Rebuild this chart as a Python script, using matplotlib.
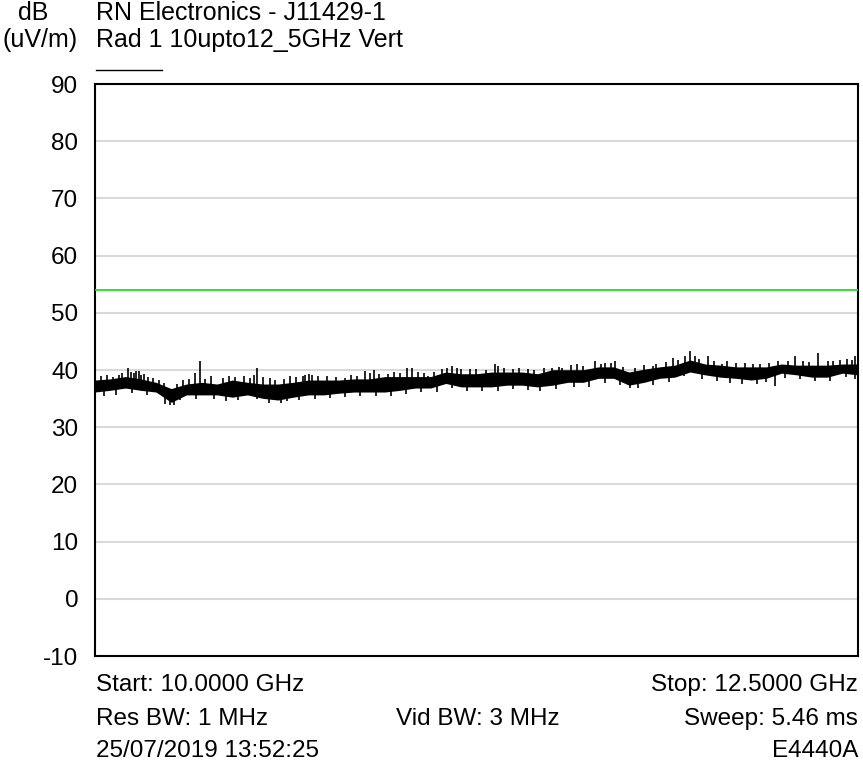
import numpy as np
import matplotlib.pyplot as plt
from matplotlib.lines import Line2D

plt.rcParams['font.family'] = ['Liberation Sans', 'DejaVu Sans']
plt.rcParams['axes.unicode_minus'] = False

# sweep envelope, sampled every 50 MHz
freq_ghz = np.round(np.arange(10.0, 12.5001, 0.05), 3)
trace_hi = [38.4, 38.6, 39.0, 38.6, 38.0, 36.9, 37.7, 38.0, 37.7,
            38.4, 38.0, 37.7, 37.7, 38.0, 38.4, 38.4, 38.4,
            38.6, 38.6, 39.0, 39.0, 39.0, 39.0, 39.8, 39.5,
            39.5, 39.8, 39.8, 39.8, 39.5, 40.2, 40.2, 40.2,
            40.7, 40.7, 39.8, 40.3, 40.7, 41.0, 41.9, 41.2,
            41.0, 40.7, 40.7, 40.7, 41.2, 41.0, 41.0, 41.0, 41.2, 41.2]
trace_lo = [36.0, 36.3, 36.7, 36.3, 36.0, 34.2, 35.5, 35.5, 35.5,
            35.1, 35.5, 34.9, 34.6, 35.1, 35.5, 35.5, 35.8,
            36.0, 36.0, 36.0, 36.3, 36.7, 36.7, 37.5, 36.9,
            36.9, 36.9, 37.2, 37.2, 36.9, 37.2, 37.7, 37.7,
            38.4, 38.4, 37.2, 37.7, 38.4, 38.6, 39.5, 39.0,
            38.6, 38.4, 38.1, 38.4, 39.3, 39.0, 38.6, 38.6, 39.3, 39.0]

# noise peaks above the envelope (GHz, dBuV/m)
peak_f = [10.020, 10.040, 10.060, 10.079, 10.090, 10.108, 10.118, 10.128,
          10.136, 10.144, 10.152, 10.161, 10.175, 10.190, 10.210, 10.225,
          10.270, 10.290, 10.308, 10.328, 10.344, 10.360, 10.380, 10.420,
          10.440, 10.460, 10.490, 10.508, 10.520, 10.531, 10.550, 10.573,
          10.590, 10.620, 10.640, 10.660, 10.681, 10.690, 10.701, 10.711,
          10.730, 10.760, 10.790, 10.819, 10.840, 10.860, 10.885, 10.900,
          10.914, 10.930, 10.960, 10.980, 11.000, 11.022, 11.039, 11.060,
          11.080, 11.091, 11.110, 11.137, 11.155, 11.170, 11.186, 11.200,
          11.229, 11.250, 11.280, 11.311, 11.320, 11.340, 11.370, 11.390,
          11.419, 11.440, 11.470, 11.497, 11.520, 11.530, 11.560, 11.579,
          11.600, 11.638, 11.660, 11.671, 11.690, 11.704, 11.730, 11.770,
          11.800, 11.828, 11.840, 11.870, 11.894, 11.910, 11.933, 11.950,
          11.966, 11.980, 12.009, 12.030, 12.054, 12.070, 12.100, 12.130,
          12.156, 12.180, 12.210, 12.240, 12.270, 12.294, 12.320, 12.340,
          12.369, 12.402, 12.420, 12.440, 12.464, 12.480, 12.490]
peak_db = [38.9, 39.2, 38.8, 39.1, 39.4, 40.3, 39.6, 39.5,
           39.9, 39.8, 39.2, 39.3, 38.8, 38.6, 38.3, 37.8,
           37.6, 38.2, 38.4, 39.5, 41.6, 38.5, 38.9, 38.6,
           39.0, 38.8, 38.9, 38.6, 39.2, 40.4, 38.7, 38.6,
           38.3, 38.5, 38.9, 38.7, 39.0, 39.1, 39.3, 39.1,
           38.9, 39.0, 38.8, 38.6, 39.2, 39.0, 39.8, 39.4,
           40.0, 39.3, 39.3, 39.6, 39.5, 40.3, 40.3, 39.6,
           39.4, 39.0, 39.7, 40.2, 40.3, 40.7, 40.3, 40.1,
           40.2, 40.2, 40.0, 41.0, 40.7, 40.4, 40.2, 40.3,
           40.2, 40.0, 40.3, 40.3, 40.6, 40.3, 40.8, 41.0,
           40.7, 41.6, 41.1, 41.2, 41.3, 41.6, 40.5, 40.4,
           40.8, 40.7, 41.0, 41.4, 42.1, 41.7, 42.4, 43.3,
           42.4, 41.9, 42.4, 41.6, 41.0, 41.5, 41.2, 41.3,
           41.0, 41.1, 41.3, 41.5, 41.6, 42.4, 41.6, 41.4,
           43.0, 41.6, 41.5, 41.7, 41.9, 41.8, 42.4]

# dips below the envelope
dip_f = [10.030, 10.070, 10.120, 10.170, 10.230, 10.246, 10.260, 10.280,
         10.330, 10.390, 10.430, 10.470, 10.530, 10.570, 10.610, 10.630,
         10.670, 10.720, 10.770, 10.820, 10.868, 10.920, 10.970, 11.020,
         11.070, 11.120, 11.170, 11.220, 11.270, 11.320, 11.370, 11.420,
         11.460, 11.510, 11.570, 11.620, 11.670, 11.720, 11.753, 11.780,
         11.830, 11.880, 11.930, 11.990, 12.040, 12.080, 12.120, 12.170,
         12.200, 12.228, 12.260, 12.310, 12.360, 12.410, 12.460, 12.490]
dip_db = [35.4, 35.6, 35.9, 35.6, 34.0, 33.9, 33.8, 34.8,
          35.0, 34.9, 34.6, 34.8, 34.9, 34.3, 34.2, 34.5,
          34.8, 35.0, 35.1, 35.3, 35.5, 35.4, 35.5, 35.8,
          36.1, 36.2, 36.8, 36.3, 36.3, 36.4, 36.6, 36.5,
          36.4, 36.7, 37.1, 37.1, 37.8, 37.3, 36.9, 36.8,
          37.3, 37.9, 38.9, 38.4, 38.0, 37.8, 37.6, 37.5,
          37.9, 37.2, 38.6, 38.4, 38.1, 38.0, 38.7, 38.5]

limit_db = 54
y_ticks = list(range(-10, 91, 10))

fig = plt.figure(figsize=(8.63, 7.66), dpi=100)
ax = fig.add_axes([0.110, 0.1436, 0.884, 0.7467])

ax.set_xlim(10.0, 12.5)
ax.set_ylim(-10, 90)
ax.set_yticks(y_ticks)
ax.set_xticks([])
ax.tick_params(axis='y', length=0, labelsize=17.5, pad=12)
ax.yaxis.grid(True, color='#d9d9d9', linewidth=1.5)
ax.set_axisbelow(True)
for s in ax.spines.values():
    s.set_linewidth(1.5)
    s.set_color('black')

ax.axhline(limit_db, color='#22dd22', linewidth=1.3, zorder=3)

# dense noise core plus the individual peaks and dips
lo = np.array(trace_lo)
hi = np.array(trace_hi)
ax.fill_between(freq_ghz, lo + 0.15, hi - 0.15, color='black', linewidth=0, zorder=4)
peak_base = np.interp(peak_f, freq_ghz, hi - 0.6)
ax.vlines(peak_f, peak_base, peak_db, color='black', linewidth=1.2, zorder=4)
dip_base = np.interp(dip_f, freq_ghz, lo + 0.6)
ax.vlines(dip_f, dip_db, dip_base, color='black', linewidth=1.2, zorder=4)

# header text
hs = 18
fig.text(18 / 863, 1 - 13 / 766, 'dB', fontsize=hs, ha='left', va='center')
fig.text(96 / 863, 1 - 13 / 766, 'RN Electronics - J11429-1', fontsize=hs, ha='left', va='center')
fig.text(3 / 863, 1 - 40 / 766, '(uV/m)', fontsize=hs, ha='left', va='center')
fig.text(96 / 863, 1 - 40 / 766, 'Rad 1 10upto12_5GHz Vert', fontsize=hs, ha='left', va='center')
fig.add_artist(Line2D([96 / 863, 162 / 863], [1 - 70 / 766, 1 - 70 / 766],
                      color='black', linewidth=1.0))

# footer text
fs = 17.5
fig.text(96 / 863, 1 - 685 / 766, 'Start: 10.0000 GHz', fontsize=fs, ha='left', va='center')
fig.text(96 / 863, 1 - 719 / 766, 'Res BW: 1 MHz', fontsize=fs, ha='left', va='center')
fig.text(96 / 863, 1 - 751 / 766, '25/07/2019 13:52:25', fontsize=fs, ha='left', va='center')
fig.text(478 / 863, 1 - 719 / 766, 'Vid BW: 3 MHz', fontsize=fs, ha='center', va='center')
fig.text(858 / 863, 1 - 685 / 766, 'Stop: 12.5000 GHz', fontsize=fs, ha='right', va='center')
fig.text(858 / 863, 1 - 719 / 766, 'Sweep: 5.46 ms', fontsize=fs, ha='right', va='center')
fig.text(858 / 863, 1 - 751 / 766, 'E4440A', fontsize=fs, ha='right', va='center')

plt.savefig('out.png', dpi=100)
